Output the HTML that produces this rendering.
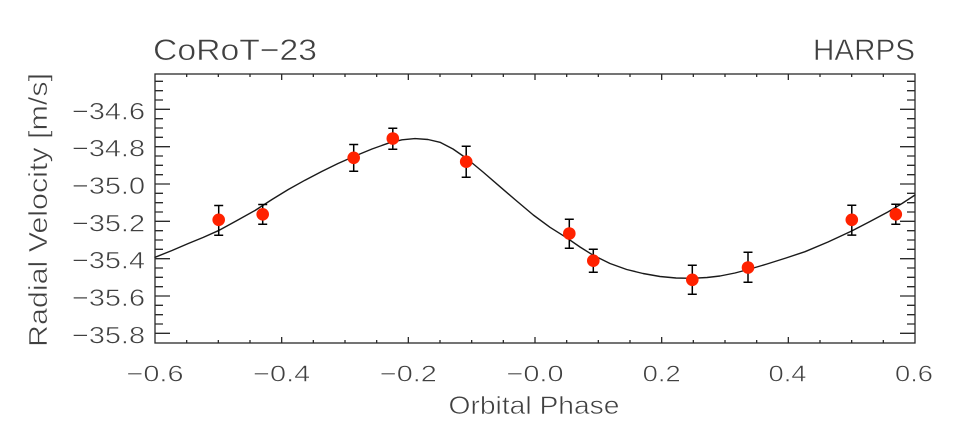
<!DOCTYPE html>
<html>
<head>
<meta charset="utf-8">
<style>
  html, body { margin: 0; padding: 0; background: #ffffff; }
  svg { display: block; }
  text { font-family: "Liberation Sans", "DejaVu Sans", sans-serif; fill: #404040; stroke: #ffffff; stroke-width: 0.55px; paint-order: fill stroke; }
</style>
</head>
<body>
<svg width="970" height="447" viewBox="0 0 970 447" xmlns="http://www.w3.org/2000/svg">
  <rect x="0" y="0" width="970" height="447" fill="#ffffff"/>

  <!-- Titles -->
  <text x="153" y="60" font-size="30" textLength="164" lengthAdjust="spacingAndGlyphs">CoRoT−23</text>
  <text x="813" y="60" font-size="30" textLength="102" lengthAdjust="spacingAndGlyphs">HARPS</text>

  <!-- Axes box -->
  <rect x="155" y="74" width="760" height="269" fill="none" stroke="#2a2a2a" stroke-width="1.3"/>

  <!-- Ticks -->
  <g stroke="#2a2a2a" stroke-width="1.3" fill="none">
    <path d="M155 109.33H170 M155 146.67H170 M155 184H170 M155 221.33H170 M155 258.67H170 M155 296H170 M155 333.33H170
             M915 109.33H900 M915 146.67H900 M915 184H900 M915 221.33H900 M915 258.67H900 M915 296H900 M915 333.33H900"/>
    <path d="M155 81.33H163 M155 90.67H163 M155 100H163 M155 118.67H163 M155 128H163 M155 137.33H163 M155 156H163 M155 165.33H163 M155 174.67H163 M155 193.33H163 M155 202.67H163 M155 212H163 M155 230.67H163 M155 240H163 M155 249.33H163 M155 268H163 M155 277.33H163 M155 286.67H163 M155 305.33H163 M155 314.67H163 M155 324H163
             M915 81.33H907 M915 90.67H907 M915 100H907 M915 118.67H907 M915 128H907 M915 137.33H907 M915 156H907 M915 165.33H907 M915 174.67H907 M915 193.33H907 M915 202.67H907 M915 212H907 M915 230.67H907 M915 240H907 M915 249.33H907 M915 268H907 M915 277.33H907 M915 286.67H907 M915 305.33H907 M915 314.67H907 M915 324H907"/>
    <path d="M281.67 343V337 M408.33 343V337 M535 343V337 M661.67 343V337 M788.33 343V337
             M281.67 74V80 M408.33 74V80 M535 74V80 M661.67 74V80 M788.33 74V80"/>
    <path d="M186.67 343V340 M218.33 343V340 M250 343V340 M313.33 343V340 M345 343V340 M376.67 343V340 M440 343V340 M471.67 343V340 M503.33 343V340 M566.67 343V340 M598.33 343V340 M630 343V340 M693.33 343V340 M725 343V340 M756.67 343V340 M820 343V340 M851.67 343V340 M883.33 343V340
             M186.67 74V77 M218.33 74V77 M250 74V77 M313.33 74V77 M345 74V77 M376.67 74V77 M440 74V77 M471.67 74V77 M503.33 74V77 M566.67 74V77 M598.33 74V77 M630 74V77 M693.33 74V77 M725 74V77 M756.67 74V77 M820 74V77 M851.67 74V77 M883.33 74V77"/>
  </g>

  <!-- Y tick labels -->
  <g font-size="24.5" text-anchor="end">
    <text x="145" y="119.3" textLength="73" lengthAdjust="spacingAndGlyphs">−34.6</text>
    <text x="145" y="156.7" textLength="73" lengthAdjust="spacingAndGlyphs">−34.8</text>
    <text x="145" y="194" textLength="73" lengthAdjust="spacingAndGlyphs">−35.0</text>
    <text x="145" y="231.3" textLength="73" lengthAdjust="spacingAndGlyphs">−35.2</text>
    <text x="145" y="268.7" textLength="73" lengthAdjust="spacingAndGlyphs">−35.4</text>
    <text x="145" y="306" textLength="73" lengthAdjust="spacingAndGlyphs">−35.6</text>
    <text x="145" y="343.3" textLength="73" lengthAdjust="spacingAndGlyphs">−35.8</text>
  </g>

  <!-- X tick labels -->
  <g font-size="23" text-anchor="middle">
    <text x="155" y="381.7" textLength="57" lengthAdjust="spacingAndGlyphs">−0.6</text>
    <text x="281.67" y="381.7" textLength="57" lengthAdjust="spacingAndGlyphs">−0.4</text>
    <text x="408.33" y="381.7" textLength="57" lengthAdjust="spacingAndGlyphs">−0.2</text>
    <text x="535" y="381.7" textLength="57" lengthAdjust="spacingAndGlyphs">−0.0</text>
    <text x="661.67" y="381.7" textLength="38" lengthAdjust="spacingAndGlyphs">0.2</text>
    <text x="787.5" y="381.7" textLength="38" lengthAdjust="spacingAndGlyphs">0.4</text>
    <text x="914" y="381.7" textLength="38" lengthAdjust="spacingAndGlyphs">0.6</text>
  </g>

  <!-- Axis titles -->
  <text x="534" y="414" font-size="25" text-anchor="middle" textLength="171" lengthAdjust="spacingAndGlyphs">Orbital Phase</text>
  <text transform="translate(47,210) rotate(-90)" x="0" y="0" font-size="26" text-anchor="middle" textLength="274" lengthAdjust="spacingAndGlyphs">Radial Velocity [m/s]</text>

  <!-- Model curve -->
  <polyline fill="none" stroke="#1a1a1a" stroke-width="1.4" stroke-linejoin="round" stroke-linecap="round"
    points="155,257.3 172,250.5 188.3,243.5 203,237.5 218.3,230.7 237,220.5 255,210.5 272,199.5 288.3,189.5 305,180.2 321.7,171.5 338,163.5 355,156 372,149 388.3,143.2 402,139.8 415,138.6 428,139.5 440,142.3 453,149 466.7,158.5 483,172 500,186.7 516.7,201 533.3,215 550,227.3 566.7,237.8 580,247 593.3,255.3 610,263.5 626.7,269.5 643,273.5 660,276.5 676,278 691.7,278.3 707,277.5 720,276 735,273 748.3,269.5 767,264 786,258 805,251.7 828,242 851.7,231 870,221.5 888.3,211.7 902,203.5 915,195"/>

  <!-- Error bars -->
  <g stroke="#000000" stroke-width="1.5" fill="none">
    <path d="M218.7 205.5V235.3 M214.2 205.5H223.2 M214.2 235.3H223.2"/>
    <path d="M262.7 204.5V224.3 M258.2 204.5H267.2 M258.2 224.3H267.2"/>
    <path d="M353.7 144.5V171.3 M349.2 144.5H358.2 M349.2 171.3H358.2"/>
    <path d="M392.8 128.3V149.3 M388.3 128.3H397.3 M388.3 149.3H397.3"/>
    <path d="M466.2 146.2V177.2 M461.7 146.2H470.7 M461.7 177.2H470.7"/>
    <path d="M569.3 219.3V248.3 M564.8 219.3H573.8 M564.8 248.3H573.8"/>
    <path d="M593.3 249.3V272.3 M588.8 249.3H597.8 M588.8 272.3H597.8"/>
    <path d="M692.3 265.3V294.3 M687.8 265.3H696.8 M687.8 294.3H696.8"/>
    <path d="M748 252.3V282.3 M743.5 252.3H752.5 M743.5 282.3H752.5"/>
    <path d="M851.8 205.3V235.1 M847.3 205.3H856.3 M847.3 235.1H856.3"/>
    <path d="M895.8 204.3V224.2 M891.3 204.3H900.3 M891.3 224.2H900.3"/>
  </g>

  <!-- Data points -->
  <g fill="#ff2200">
    <circle cx="218.7" cy="219.8" r="6.3"/>
    <circle cx="262.7" cy="214.3" r="6.3"/>
    <circle cx="353.7" cy="157.8" r="6.3"/>
    <circle cx="392.8" cy="138.5" r="6.3"/>
    <circle cx="466.2" cy="161.7" r="6.3"/>
    <circle cx="569.3" cy="233.5" r="6.3"/>
    <circle cx="593.3" cy="260.7" r="6.3"/>
    <circle cx="692.3" cy="279.8" r="6.3"/>
    <circle cx="748" cy="267.5" r="6.3"/>
    <circle cx="851.8" cy="219.8" r="6.3"/>
    <circle cx="895.8" cy="214.3" r="6.3"/>
  </g>
</svg>
</body>
</html>
